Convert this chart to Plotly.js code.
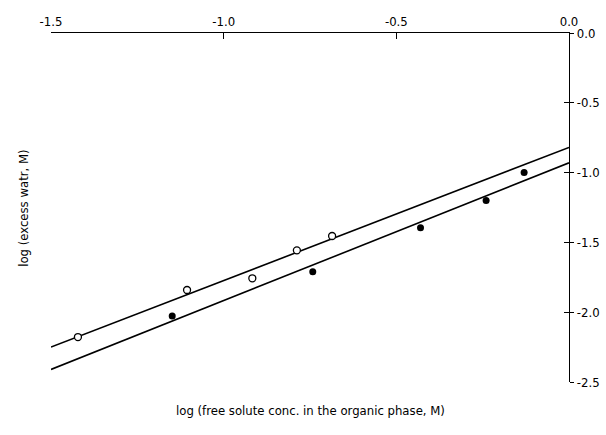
<!DOCTYPE html>
<html><head><meta charset="utf-8">
<script src="https://cdn.plot.ly/plotly-3.0.1.min.js"></script>
<style>html,body{margin:0;padding:0;background:#fff}</style>
</head><body>
<div id="chart" style="width:606px;height:435px"></div>
<script>
// Open circles
const openX = [-1.422, -1.106, -0.917, -0.788, -0.686];
const openY = [-2.178, -1.841, -1.757, -1.557, -1.454];
// Filled circles
const filledX = [-1.149, -0.742, -0.430, -0.240, -0.130];
const filledY = [-2.027, -1.710, -1.395, -1.199, -1.000];
// Fitted lines
const lineX = [-1.5, 0.0];
const upperLineY = [-2.25, -0.82];
const lowerLineY = [-2.41, -0.93];
// Ticks
const xTicks = [-1.5, -1.0, -0.5, 0.0];
const yTicks = [0.0, -0.5, -1.0, -1.5, -2.0, -2.5];
const xTitle = 'log (free solute conc. in the organic phase, M)';
const yTitle = 'log (excess watr, M)';

const fam = 'DejaVu Sans Condensed, DejaVu Sans, sans-serif';
const tickFont = {family: fam, size: 13, color: '#000'};
const fmt = v => v.toFixed(1);

const traces = [
  {x: lineX, y: upperLineY, mode: 'lines', line: {color: '#000', width: 1.6}, hoverinfo: 'skip'},
  {x: lineX, y: lowerLineY, mode: 'lines', line: {color: '#000', width: 1.6}, hoverinfo: 'skip'},
  {x: openX, y: openY, mode: 'markers', marker: {symbol: 'circle', size: 7, color: '#fff', line: {color: '#000', width: 1.3}}},
  {x: filledX, y: filledY, mode: 'markers', marker: {symbol: 'circle', size: 7, color: '#000', line: {color: '#000', width: 0}}},
  {x: [null], y: [null], yaxis: 'y2', xaxis: 'x', showlegend: false}
];

const layout = {
  width: 606, height: 435,
  margin: {l: 51, r: 37, t: 33, b: 53},
  paper_bgcolor: '#fff', plot_bgcolor: '#fff',
  showlegend: false,
  font: {family: fam, size: 12, color: '#000'},
  xaxis: {
    side: 'top', range: [-1.5, 0], tickvals: xTicks, ticktext: xTicks.map(fmt),
    ticks: 'inside', ticklen: 6, tickwidth: 1, tickcolor: '#000',
    showline: true, linecolor: '#000', linewidth: 1.5, showgrid: false, zeroline: false,
    tickfont: tickFont, ticklabelstandoff: 0
  },
  yaxis: {
    side: 'right', range: [-2.5, 0], tickvals: yTicks, ticktext: yTicks.map(fmt),
    ticks: 'outside', ticklen: 4, tickwidth: 1, tickcolor: '#000',
    showline: true, linecolor: '#000', linewidth: 1.2, showgrid: false, zeroline: false,
    tickfont: tickFont, ticklabelstandoff: 0
  },
  yaxis2: {
    overlaying: 'y', side: 'right', range: [-2.5, 0], tickvals: yTicks,
    ticks: 'inside', ticklen: 5, tickwidth: 1, tickcolor: '#000',
    showticklabels: false, showline: false, showgrid: false, zeroline: false
  },
  annotations: [
    {text: xTitle, xref: 'paper', yref: 'paper', x: 0.5, y: -0.055, yanchor: 'top', showarrow: false,
     font: {family: fam, size: 13, color: '#000'}},
    {text: yTitle, xref: 'paper', yref: 'paper', x: -0.035, xanchor: 'right', y: 0.5, textangle: -90, showarrow: false,
     font: {family: fam, size: 13, color: '#000'}}
  ]
};

Plotly.newPlot('chart', traces, layout, {displayModeBar: false, staticPlot: true});
</script>
</body></html>
